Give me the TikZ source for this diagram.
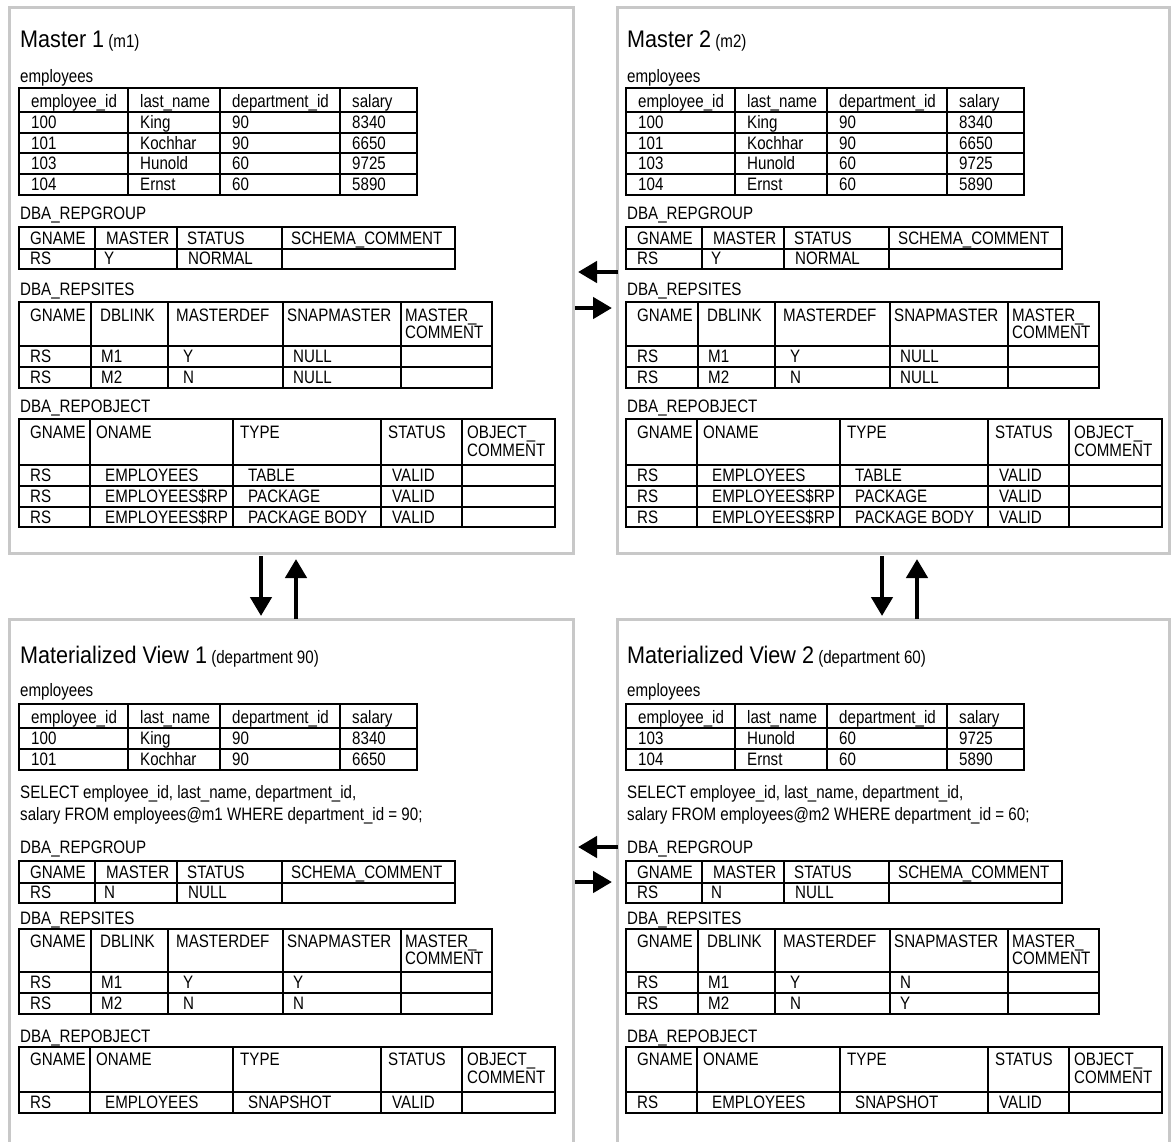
\documentclass[tikz,border=0pt]{standalone}
\usepackage{fontspec}
\setmainfont{Liberation Sans}[FakeStretch=0.84]
\newfontfamily\titlefamily{Liberation Sans}[FakeStretch=0.9]
\usetikzlibrary{arrows.meta}
\definecolor{framegray}{HTML}{C8C8C8}
\newcommand{\tabfont}{\fontsize{18}{17}\selectfont}
\newcommand{\titlefont}{\titlefamily\fontsize{24}{28}\selectfont}
\tikzset{
  frame box/.style  = {framegray, line width=3pt},
  grid line/.style  = {black, line width=1.3pt},
  cell/.style       = {anchor=base west, inner sep=0pt, font=\tabfont},
  panel title/.style = {anchor=base west, inner sep=0pt, font=\tabfont},
  sync arrow/.style = {-{Triangle[width=21pt,length=19pt]}, line width=4.5pt, black},
}

\begin{document}
\begin{tikzpicture}[x=1pt, y=-1pt]
\useasboundingbox (0,0) rectangle (1172,1141);

% =====================================================================
% Frames
% =====================================================================
\draw[frame box] (9,7) rectangle (573,553);
\draw[frame box] (617,7) rectangle (1169,553);
\draw[frame box] (9,1145) -- (9,619) -- (573,619) -- (573,1145);
\draw[frame box] (617,1145) -- (617,619) -- (1169,619) -- (1169,1145);

% =====================================================================
% MASTER SITES (m1, m2) -- same content, shifted
% =====================================================================
\foreach \px/\pn in {0/1, 607/2} {
\begin{scope}[shift={(\px,0)}]
  \node[panel title] (m\pn-title) at (20,47) {{\titlefont Master \pn} (m\pn)};

  % employees
  \node[cell] (m\pn-emp) at (20,82) {employees};
  \draw[grid line] (19,88) rectangle (417,195);
  \foreach \x in {128,220,340} \draw[grid line] (\x,88) -- (\x,195);
  \foreach \y in {112,133,153,174} \draw[grid line] (19,\y) -- (417,\y);
  \foreach \x/\t [count=\c] in {31/employee\_id, 140/last\_name, 232/department\_id, 352/salary}
    \node[cell] (m\pn-emp-0-\c) at (\x,107) {\t};
  \foreach \y/\a/\b/\cc/\d [count=\r] in {128/100/King/90/8340, 149/101/Kochhar/90/6650,
                                          169/103/Hunold/60/9725, 190/104/Ernst/60/5890} {
    \node[cell] (m\pn-emp-\r-1) at (31,\y)  {\a};
    \node[cell] (m\pn-emp-\r-2) at (140,\y) {\b};
    \node[cell] (m\pn-emp-\r-3) at (232,\y) {\cc};
    \node[cell] (m\pn-emp-\r-4) at (352,\y) {\d};
  }

  % DBA_REPGROUP
  \node[cell] (m\pn-grp) at (20,219) {DBA\_REPGROUP};
  \draw[grid line] (19,227) rectangle (455,269);
  \foreach \x in {95,177,282} \draw[grid line] (\x,227) -- (\x,269);
  \draw[grid line] (19,249) -- (455,249);
  \foreach \x/\t [count=\c] in {30/GNAME, 106/MASTER, 187/STATUS, 291/SCHEMA\_COMMENT}
    \node[cell] (m\pn-grp-0-\c) at (\x,244) {\t};
  \foreach \x/\t [count=\c] in {30/RS, 104/Y, 188/NORMAL}
    \node[cell] (m\pn-grp-1-\c) at (\x,264) {\t};

  % DBA_REPSITES
  \node[cell] (m\pn-sit) at (20,295) {DBA\_REPSITES};
  \draw[grid line] (19,302) rectangle (492,388);
  \foreach \x in {91,168,283,401} \draw[grid line] (\x,302) -- (\x,388);
  \foreach \y in {346,367} \draw[grid line] (19,\y) -- (492,\y);
  \foreach \x/\t [count=\c] in {30/GNAME, 100/DBLINK, 176/MASTERDEF, 287/SNAPMASTER, 405/MASTER\_}
    \node[cell] (m\pn-sit-0-\c) at (\x,321) {\t};
  \node[cell] (m\pn-sit-0-6) at (405,338) {COMMENT};
  \foreach \y/\a/\b/\cc [count=\r] in {362/RS/M1/Y, 383/RS/M2/N} {
    \node[cell] (m\pn-sit-\r-1) at (30,\y)  {\a};
    \node[cell] (m\pn-sit-\r-2) at (101,\y) {\b};
    \node[cell] (m\pn-sit-\r-3) at (183,\y) {\cc};
    \node[cell] (m\pn-sit-\r-4) at (293,\y) {NULL};
  }

  % DBA_REPOBJECT
  \node[cell] (m\pn-obj) at (20,412) {DBA\_REPOBJECT};
  \draw[grid line] (19,419) rectangle (555,527);
  \foreach \x in {90,233,381,462} \draw[grid line] (\x,419) -- (\x,527);
  \foreach \y in {465,486,507} \draw[grid line] (19,\y) -- (555,\y);
  \foreach \x/\t [count=\c] in {30/GNAME, 96/ONAME, 240/TYPE, 388/STATUS, 467/OBJECT\_}
    \node[cell] (m\pn-obj-0-\c) at (\x,438) {\t};
  \node[cell] (m\pn-obj-0-6) at (467,456) {COMMENT};
  \foreach \y/\b/\cc [count=\r] in {481/EMPLOYEES/TABLE, 502/EMPLOYEES\$RP/PACKAGE,
                                    523/EMPLOYEES\$RP/PACKAGE BODY} {
    \node[cell] (m\pn-obj-\r-1) at (30,\y)  {RS};
    \node[cell] (m\pn-obj-\r-2) at (105,\y) {\b};
    \node[cell] (m\pn-obj-\r-3) at (248,\y) {\cc};
    \node[cell] (m\pn-obj-\r-4) at (392,\y) {VALID};
  }
\end{scope}
}

% =====================================================================
% MATERIALIZED VIEW SITES (department 90, department 60)
% =====================================================================
\foreach \px/\pn/\dep/\snapa/\snapb in {0/1/90/Y/N, 607/2/60/N/Y} {
\begin{scope}[shift={(\px,0)}]
  \node[panel title] (v\pn-title) at (20,663) {{\titlefont Materialized View \pn} (department \dep)};

  % employees
  \node[cell] (v\pn-emp) at (20,696) {employees};
  \draw[grid line] (19,704) rectangle (417,770);
  \foreach \x in {128,220,340} \draw[grid line] (\x,704) -- (\x,770);
  \foreach \y in {728,749} \draw[grid line] (19,\y) -- (417,\y);
  \foreach \x/\t [count=\c] in {31/employee\_id, 140/last\_name, 232/department\_id, 352/salary}
    \node[cell] (v\pn-emp-0-\c) at (\x,723) {\t};
  \ifnum\pn=1
    \def\emprows{744/100/King/90/8340, 765/101/Kochhar/90/6650}
  \else
    \def\emprows{744/103/Hunold/60/9725, 765/104/Ernst/60/5890}
  \fi
  \foreach \y/\a/\b/\cc/\d [count=\r] in \emprows {
    \node[cell] (v\pn-emp-\r-1) at (31,\y)  {\a};
    \node[cell] (v\pn-emp-\r-2) at (140,\y) {\b};
    \node[cell] (v\pn-emp-\r-3) at (232,\y) {\cc};
    \node[cell] (v\pn-emp-\r-4) at (352,\y) {\d};
  }

  % defining query
  \node[cell] (v\pn-sql-1) at (20,798) {SELECT employee\_id, last\_name, department\_id,};
  \node[cell] (v\pn-sql-2) at (20,820) {salary FROM employees@m\pn{} WHERE department\_id = \dep;};

  % DBA_REPGROUP
  \node[cell] (v\pn-grp) at (20,853) {DBA\_REPGROUP};
  \draw[grid line] (19,861) rectangle (455,903);
  \foreach \x in {95,177,282} \draw[grid line] (\x,861) -- (\x,903);
  \draw[grid line] (19,883) -- (455,883);
  \foreach \x/\t [count=\c] in {30/GNAME, 106/MASTER, 187/STATUS, 291/SCHEMA\_COMMENT}
    \node[cell] (v\pn-grp-0-\c) at (\x,878) {\t};
  \foreach \x/\t [count=\c] in {30/RS, 104/N, 188/NULL}
    \node[cell] (v\pn-grp-1-\c) at (\x,898) {\t};

  % DBA_REPSITES
  \node[cell] (v\pn-sit) at (20,924) {DBA\_REPSITES};
  \draw[grid line] (19,929) rectangle (492,1014);
  \foreach \x in {91,168,283,401} \draw[grid line] (\x,929) -- (\x,1014);
  \foreach \y in {972,993} \draw[grid line] (19,\y) -- (492,\y);
  \foreach \x/\t [count=\c] in {30/GNAME, 100/DBLINK, 176/MASTERDEF, 287/SNAPMASTER, 405/MASTER\_}
    \node[cell] (v\pn-sit-0-\c) at (\x,947) {\t};
  \node[cell] (v\pn-sit-0-6) at (405,964) {COMMENT};
  \foreach \y/\b/\cc/\d [count=\r] in {988/M1/Y/\snapa, 1009/M2/N/\snapb} {
    \node[cell] (v\pn-sit-\r-1) at (30,\y)  {RS};
    \node[cell] (v\pn-sit-\r-2) at (101,\y) {\b};
    \node[cell] (v\pn-sit-\r-3) at (183,\y) {\cc};
    \node[cell] (v\pn-sit-\r-4) at (293,\y) {\d};
  }

  % DBA_REPOBJECT
  \node[cell] (v\pn-obj) at (20,1042) {DBA\_REPOBJECT};
  \draw[grid line] (19,1047) rectangle (555,1113);
  \foreach \x in {90,233,381,462} \draw[grid line] (\x,1047) -- (\x,1113);
  \draw[grid line] (19,1092) -- (555,1092);
  \foreach \x/\t [count=\c] in {30/GNAME, 96/ONAME, 240/TYPE, 388/STATUS, 467/OBJECT\_}
    \node[cell] (v\pn-obj-0-\c) at (\x,1065) {\t};
  \node[cell] (v\pn-obj-0-6) at (467,1083) {COMMENT};
  \foreach \x/\t [count=\c] in {30/RS, 105/EMPLOYEES, 248/SNAPSHOT, 392/VALID}
    \node[cell] (v\pn-obj-1-\c) at (\x,1108) {\t};
\end{scope}
}

% =====================================================================
% Replication arrows
% =====================================================================
% m1 <-> m2
\coordinate (m2-in)  at (618,272);  \coordinate (m1-out) at (578,272);
\coordinate (m1-in)  at (575,308);  \coordinate (m2-out) at (612,308);
\draw[sync arrow] (m2-in) -- (m1-out);
\draw[sync arrow] (m1-in) -- (m2-out);
% mv1 <-> mv2
\coordinate (v2-in)  at (618,847);  \coordinate (v1-out) at (578,847);
\coordinate (v1-in)  at (575,882);  \coordinate (v2-out) at (612,882);
\draw[sync arrow] (v2-in) -- (v1-out);
\draw[sync arrow] (v1-in) -- (v2-out);
% m1 <-> mv1
\coordinate (m1-bot)  at (261,556); \coordinate (v1-top)  at (261,616);
\coordinate (v1-top2) at (296,619); \coordinate (m1-bot2) at (296,559);
\draw[sync arrow] (m1-bot) -- (v1-top);
\draw[sync arrow] (v1-top2) -- (m1-bot2);
% m2 <-> mv2
\coordinate (m2-bot)  at (882,556); \coordinate (v2-top)  at (882,616);
\coordinate (v2-top2) at (917,619); \coordinate (m2-bot2) at (917,559);
\draw[sync arrow] (m2-bot) -- (v2-top);
\draw[sync arrow] (v2-top2) -- (m2-bot2);

\end{tikzpicture}
\end{document}
